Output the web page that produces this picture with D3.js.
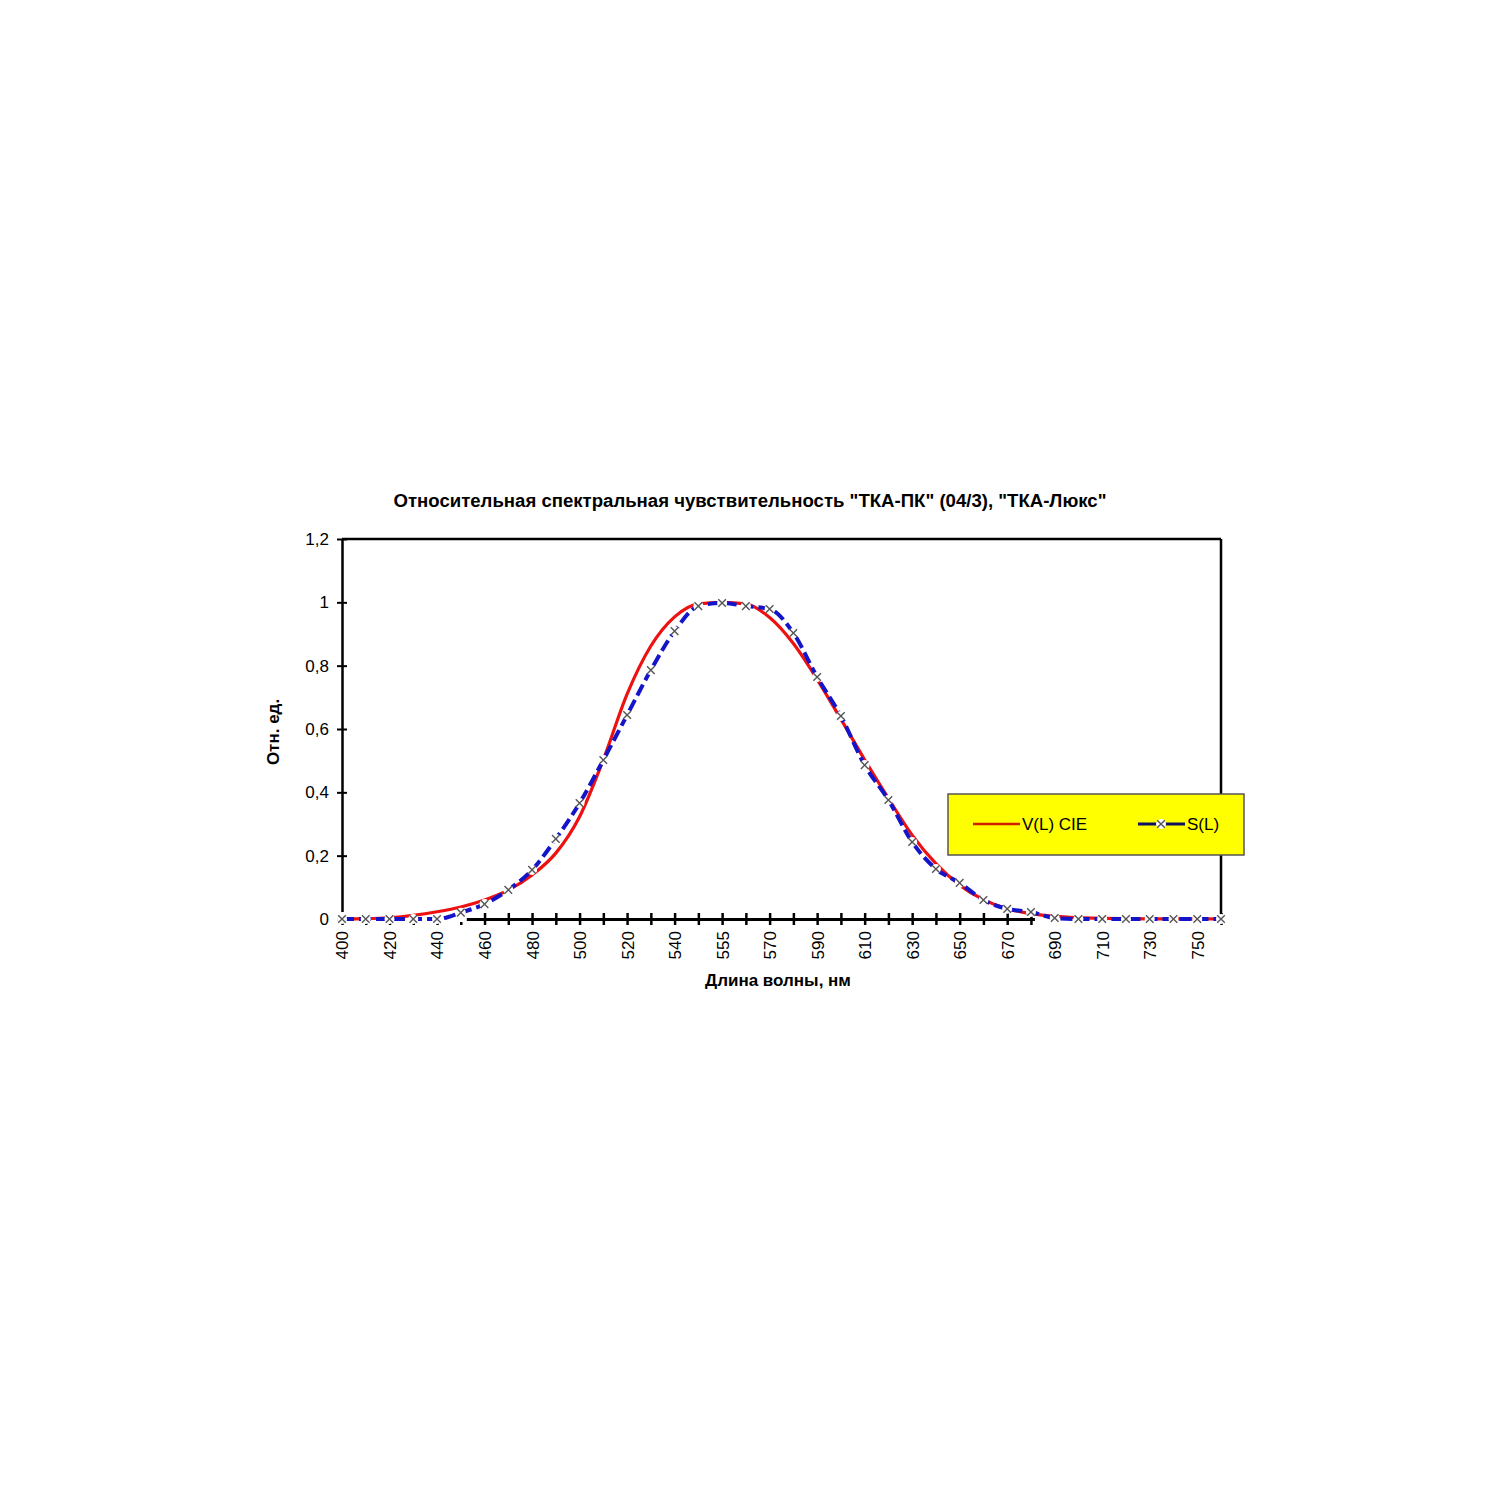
<!DOCTYPE html>
<html>
<head>
<meta charset="utf-8">
<script src="https://cdn.jsdelivr.net/npm/d3@7/dist/d3.min.js"></script>
<style>
  html, body { margin: 0; padding: 0; background: #fff; }
  svg { display: block; }
  text { font-family: "Liberation Sans", Arial, sans-serif; fill: #000; }
</style>
</head>
<body>
<svg id="chart" width="1500" height="1500"></svg>
<script>
// ---- data ----
const wavelengths = [400,410,420,430,440,450,460,470,480,490,500,510,520,530,540,550,555,560,570,580,590,600,610,620,630,640,650,660,670,680,690,700,710,720,730,740,750,760];
const tickLabels = ["400","420","440","460","480","500","520","540","555","570","590","610","630","650","670","690","710","730","750"];
const vCIE = [0.0004,0.0012,0.004,0.0116,0.023,0.038,0.06,0.091,0.139,0.208,0.323,0.503,0.71,0.862,0.954,0.995,1.0,0.995,0.952,0.87,0.757,0.631,0.503,0.381,0.265,0.175,0.107,0.061,0.032,0.017,0.0082,0.0041,0.0021,0.00105,0.00052,0.00025,0.00012,0.00006];
const sL = [0,0,0,0,0,0.02,0.047,0.092,0.155,0.253,0.366,0.502,0.644,0.786,0.909,0.988,0.998,0.988,0.979,0.903,0.764,0.641,0.486,0.376,0.243,0.158,0.114,0.06,0.032,0.022,0.003,0,0,0,0,0,0,0];
const yTicks = [0,0.2,0.4,0.6,0.8,1,1.2];
const seriesNames = ["V(L)  CIE", "S(L)"];
const titleText = "Относительная спектральная чувствительность \"ТКА-ПК\" (04/3), \"ТКА-Люкс\"";
const xTitle = "Длина волны, нм";
const yTitle = "Отн. ед.";

// ---- layout ----
const L = 342, R = 1221, T = 539, B = 919;
const svg = d3.select("#chart");
const cats = wavelengths.map(String);
const x = d3.scalePoint().domain(cats).range([L, R]);
const y = d3.scaleLinear().domain([0, 1.2]).range([B, T]);
const RED = "#ee1111", BLUE = "#1414c8";
const NARROW = "'Liberation Sans Narrow', 'Liberation Sans', Arial, sans-serif";

// title
svg.append("text").attr("x", 750).attr("y", 507).attr("text-anchor", "middle")
  .attr("font-size", 18).attr("font-weight", "bold").attr("font-family", NARROW)
  .attr("textLength", 713).attr("lengthAdjust", "spacingAndGlyphs")
  .text(titleText);

// frame: top and right
svg.append("line").attr("x1", L).attr("x2", R).attr("y1", T).attr("y2", T)
  .attr("stroke", "#000").attr("stroke-width", 2.5);
svg.append("line").attr("x1", R).attr("x2", R).attr("y1", T).attr("y2", B)
  .attr("stroke", "#000").attr("stroke-width", 2.5);

// y axis
const yAxis = d3.axisLeft(y).tickValues(yTicks)
  .tickFormat(d => d3.format("~g")(d).replace(".", ","))
  .tickSizeInner(5).tickSizeOuter(0).tickPadding(8);
const gy = svg.append("g").attr("transform", `translate(${L},0)`).call(yAxis);
gy.select(".domain").attr("stroke-width", 2.5);
gy.selectAll(".tick line").attr("x2", 5).attr("x1", -5).attr("stroke-width", 2);
gy.selectAll(".tick text").attr("font-size", 17).attr("font-family", NARROW);

// x axis
const xAxis = d3.axisBottom(x).tickValues(cats).tickSizeOuter(0).tickSizeInner(6)
  .tickFormat(d => tickLabels.includes(d) ? d : "");
const gx = svg.append("g").attr("transform", `translate(0,${B})`).call(xAxis);
gx.select(".domain").attr("stroke-width", 3);
gx.selectAll(".tick line").attr("y1", -6).attr("y2", 6).attr("stroke-width", 2.5);
gx.selectAll(".tick text")
  .attr("font-size", 17).attr("font-family", NARROW)
  .attr("transform", "rotate(-90)")
  .attr("text-anchor", "end").attr("dy", "0.35em")
  .attr("x", -12).attr("y", 0);

// hidden parts of the x axis (covered in the original)
const cutL = x("450") + 6, cutR = x("680") + 4;
svg.append("rect").attr("x", L - 1).attr("y", B - 7).attr("width", cutL - L + 1).attr("height", 10).attr("fill", "#fff");
svg.append("rect").attr("x", cutR).attr("y", B - 7).attr("width", R - cutR - 2).attr("height", 14).attr("fill", "#fff");

// axis titles
svg.append("text").attr("x", 778).attr("y", 986).attr("text-anchor", "middle")
  .attr("font-size", 17).attr("font-weight", "bold").attr("font-family", NARROW).text(xTitle);
svg.append("text").attr("transform", "translate(279,732) rotate(-90)").attr("text-anchor", "middle")
  .attr("font-size", 17).attr("font-weight", "bold").attr("font-family", NARROW).text(yTitle);

// series
const line = d3.line().x((d, i) => x(cats[i])).y(d => y(d)).curve(d3.curveMonotoneX);
svg.append("path").datum(vCIE).attr("d", line).attr("fill", "none")
  .attr("stroke", RED).attr("stroke-width", 3.2);
svg.append("path").datum(sL).attr("d", line).attr("fill", "none")
  .attr("stroke", BLUE).attr("stroke-width", 4).attr("stroke-dasharray", "12,5");

function marker(g, cx, cy) {
  g.append("circle").attr("cx", cx).attr("cy", cy).attr("r", 5).attr("fill", "#fff");
  g.append("path").attr("d", `M${cx-3.8},${cy-3.8}L${cx+3.8},${cy+3.8}M${cx-3.8},${cy+3.8}L${cx+3.8},${cy-3.8}`)
    .attr("stroke", "#555").attr("stroke-width", 1.4);
}
const mg = svg.append("g");
sL.forEach((v, i) => marker(mg, x(cats[i]), y(v)));

// legend
const lg = svg.append("g");
lg.append("rect").attr("x", 948).attr("y", 794).attr("width", 296).attr("height", 61)
  .attr("fill", "#ffff00").attr("stroke", "#555").attr("stroke-width", 1.5);
lg.append("line").attr("x1", 973).attr("x2", 1020).attr("y1", 824).attr("y2", 824)
  .attr("stroke", "#d02000").attr("stroke-width", 2.5);
lg.append("text").attr("x", 1022).attr("y", 830).attr("font-size", 17).attr("font-family", NARROW).text(seriesNames[0]);
lg.append("line").attr("x1", 1138).attr("x2", 1185).attr("y1", 824).attr("y2", 824)
  .attr("stroke", "#101060").attr("stroke-width", 3);
marker(lg, 1161, 824);
lg.append("text").attr("x", 1187).attr("y", 830).attr("font-size", 17).attr("font-family", NARROW).text(seriesNames[1]);
</script>
</body>
</html>
